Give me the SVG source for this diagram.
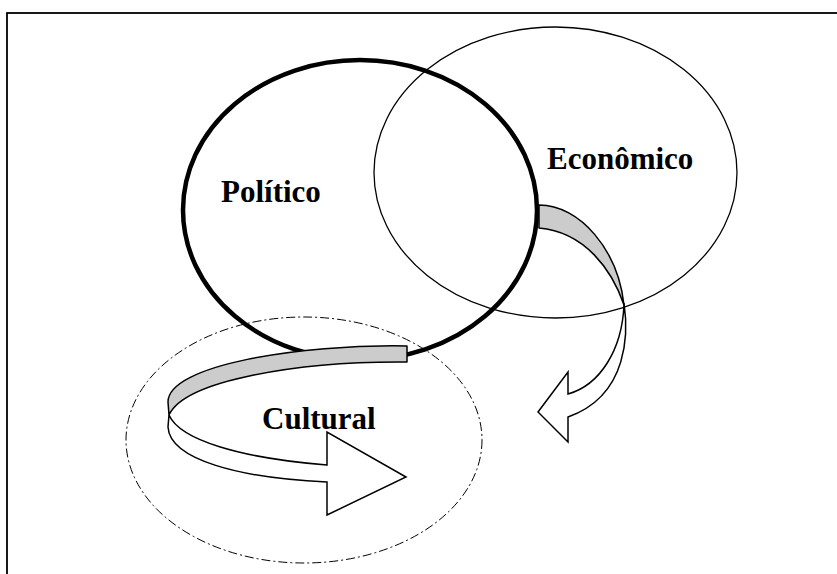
<svg xmlns="http://www.w3.org/2000/svg" width="837" height="574" viewBox="0 0 837 574">
  <style>
    .lbl { font-family: "Liberation Serif", "Times New Roman", serif; font-weight: bold; font-size: 31px; fill: #000; }
    .back { fill: #cccccc; stroke: #000; stroke-width: 1.5; stroke-linejoin: round; }
    .front { fill: #ffffff; stroke: #000; stroke-width: 1.5; stroke-linejoin: miter; }
  </style>
  <rect x="0" y="0" width="837" height="574" fill="#ffffff"/>
  <rect id="frame" x="7" y="13" width="900" height="700" fill="none" stroke="#000" stroke-width="1.8"/>

  <g id="node-cultural">
    <ellipse cx="304" cy="440" rx="178" ry="123" fill="none" stroke="#000" stroke-width="1" stroke-dasharray="9 3 2 3"/>
  </g>
  <g id="node-economico">
    <ellipse cx="555.5" cy="172.5" rx="181.5" ry="145.5" fill="none" stroke="#000" stroke-width="1.3"/>
  </g>
  <g id="node-politico">
    <ellipse cx="360" cy="210" rx="177" ry="150" fill="none" stroke="#000" stroke-width="4.5"/>
  </g>

  <g id="connectors">
    <g id="arrow-to-cultural">
      <path class="back" d="M407,346 C300,344 168,365 168,402 L169,415 C185,380 300,361 407,362 Z"/>
      <path class="front" d="M169,415 C180,440 240,458 327,465 L327,432 L406,477 L327,515 L327,482 C240,478 170,460 168,427 Z"/>
    </g>
    <g id="arrow-to-economico">
      <path class="back" d="M539,205 C580,205 618,250 624,305 C612,270 585,232 539,228 Z"/>
      <path class="front" d="M624,303 C628,330 630,395 568,417 L568,442 L538,412 L568,372 L568,394 C600,385 622,350 624,305 Z"/>
    </g>
  </g>

  <text class="lbl" x="221" y="202">Político</text>
  <text class="lbl" x="547" y="169">Econômico</text>
  <text class="lbl" x="262" y="429">Cultural</text>
</svg>
